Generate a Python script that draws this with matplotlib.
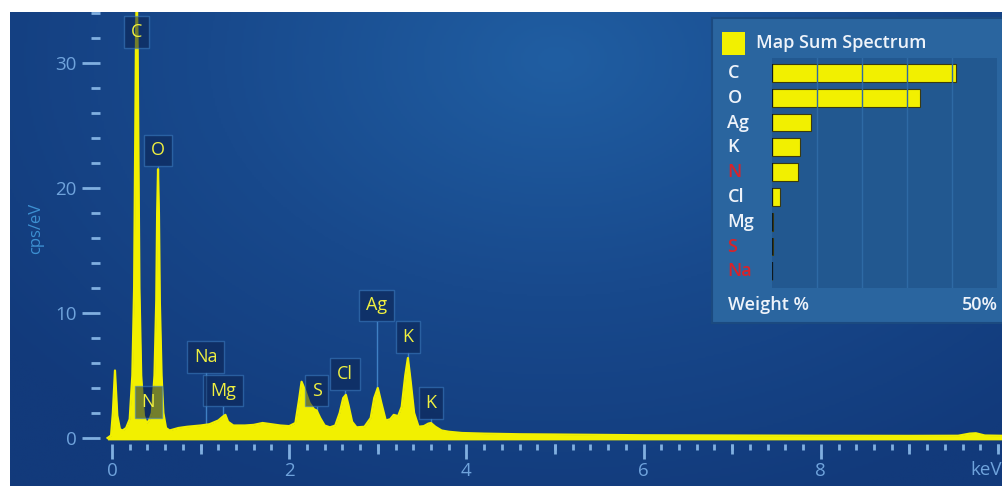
import matplotlib
matplotlib.use('Agg')
import matplotlib.pyplot as plt
import numpy as np
from matplotlib.colors import LinearSegmentedColormap
from matplotlib.patches import Rectangle
from matplotlib.ticker import MultipleLocator

plt.rcParams['font.family'] = ['Open Sans', 'DejaVu Sans']

# spectrum (keV, cps/eV)
energy = [-0.05, -0.01, 0.01, 0.034, 0.06, 0.09, 0.12, 0.16, 0.20, 0.23,
          0.25, 0.27, 0.28, 0.29, 0.31, 0.33, 0.36, 0.39, 0.42, 0.45,
          0.48, 0.50, 0.51, 0.52, 0.53, 0.54, 0.56, 0.58, 0.61, 0.65,
          0.75, 0.85, 1.0, 1.1, 1.2, 1.25, 1.28, 1.31, 1.37, 1.5,
          1.6, 1.7, 1.8, 1.9, 2.0, 2.07, 2.11, 2.14, 2.18, 2.23,
          2.28, 2.31, 2.35, 2.40, 2.46, 2.52, 2.57, 2.61, 2.64, 2.67,
          2.71, 2.76, 2.85, 2.92, 2.96, 3.00, 3.04, 3.09, 3.14, 3.18,
          3.23, 3.27, 3.31, 3.34, 3.37, 3.41, 3.46, 3.52, 3.57, 3.60,
          3.65, 3.72, 3.80, 3.95, 4.2, 4.6, 5.0, 5.5, 6.0, 7.0,
          8.0, 9.0, 9.55, 9.68, 9.75, 9.85, 10.1]
counts = [0, 0.2, 2.0, 5.4, 1.8, 0.7, 0.6, 0.8, 1.5, 5,
          12, 31, 36, 31, 12, 5, 1.8, 1.2, 1.4, 2.0,
          5, 11, 18, 21.5, 18, 11, 5, 2, 0.8, 0.6,
          0.8, 0.9, 1.0, 1.1, 1.4, 1.7, 1.85, 1.3, 1.0, 1.0,
          1.05, 1.2, 1.1, 1.0, 0.95, 1.2, 3.0, 4.5, 3.8, 2.8,
          2.3, 2.2, 1.6, 1.0, 0.85, 1.0, 2.0, 3.2, 3.45, 2.6,
          1.3, 0.85, 0.9, 1.6, 3.2, 4.0, 2.8, 1.4, 1.5, 1.85,
          1.75, 2.5, 5.0, 6.4, 4.6, 2.0, 0.9, 0.95, 1.15, 1.2,
          0.9, 0.6, 0.5, 0.4, 0.35, 0.3, 0.28, 0.25, 0.22, 0.2,
          0.18, 0.17, 0.18, 0.35, 0.38, 0.2, 0.17]

# peak labels: name, energy, label height
peak_names = ['C', 'O', 'N', 'Na', 'Mg', 'S', 'Cl', 'Ag', 'K', 'K']
peak_energy = [0.28, 0.52, 0.41, 1.06, 1.25, 2.31, 2.63, 2.99, 3.34, 3.60]
peak_label_y = [32.5, 23.0, 2.9, 6.5, 3.8, 3.8, 5.1, 10.6, 8.1, 2.8]

# weight % panel
elements = ['C', 'O', 'Ag', 'K', 'N', 'Cl', 'Mg', 'S', 'Na']
weights = [41, 33, 8.7, 6.2, 5.8, 1.8, 0.3, 0.2, 0.1]
red_elements = ['N', 'S', 'Na']

W, H = 1003, 486
fig = plt.figure(figsize=(W / 100, H / 100), dpi=100, facecolor='white')


def fbox(x0, y0, x1, y1):
    # pixel box (top-left origin) -> figure fraction rect
    return [x0 / W, 1 - y1 / H, (x1 - x0) / W, (y1 - y0) / H]


# background panel with soft glow
bg = fig.add_axes(fbox(10, 12, W, H))
bg.axis('off')
yy, xx = np.mgrid[0:1:240j, 0:1:480j]
r = np.sqrt(((xx - 0.55) / 0.7) ** 2 + ((yy - 0.1) / 1.0) ** 2)
cmap = LinearSegmentedColormap.from_list('bg', ['#205ea2', '#18498c', '#123a7b'])
bg.imshow(np.clip(r, 0, 1), cmap=cmap, aspect='auto', extent=[0, 1, 1, 0],
          vmin=0, vmax=1)
bg.set_xlim(0, 1)
bg.set_ylim(1, 0)

tick_col = '#80afe0'
lab_col = '#6fa3dc'
ax = fig.add_axes(fbox(100, 12, W, 444))
ax.set_facecolor('none')
ax.set_xlim(-0.135, 10.056)
ax.set_ylim(-0.48, 34.08)
for s in ax.spines.values():
    s.set_visible(False)

ax.fill_between(energy, -0.15, counts, color='#f2f000', lw=0, zorder=2)
ax.plot(energy, counts, color='#f2f000', lw=1.6, zorder=2)

ax.set_xticks([0, 2, 4, 6, 8])
ax.xaxis.set_minor_locator(MultipleLocator(0.2))
ax.set_yticks([0, 10, 20, 30])
ax.yaxis.set_minor_locator(MultipleLocator(2))
ax.tick_params(axis='x', which='major', length=11, width=2, color=tick_col,
               labelcolor=lab_col, labelsize=13.5, pad=2)
ax.tick_params(axis='x', which='minor', length=4, width=2, color=tick_col)
ax.tick_params(axis='y', which='major', length=13, width=2, color=tick_col,
               labelcolor=lab_col, labelsize=13.5, pad=4)
ax.tick_params(axis='y', which='minor', length=6.5, width=2, color=tick_col)
sec = ax.secondary_xaxis('bottom')
sec.set_xticks([1, 3, 5, 7, 9, 10])
sec.set_xticklabels([])
sec.tick_params(length=7.5, width=2, color=tick_col)
sec.spines['bottom'].set_visible(False)
fig.text(1002 / W, 1 - 470 / H, 'keV', color=lab_col, fontsize=13.5,
         ha='right', va='center')

ax.set_ylabel('cps/eV', color='#3d90d2', fontsize=12, labelpad=0)
ax.yaxis.set_label_coords(-0.062, 0.5)

box_style = dict(boxstyle='square,pad=0.38', facecolor='#0b2250', alpha=0.55,
                 edgecolor='#3f80c4', lw=1)
for name, e, ly in zip(peak_names, peak_energy, peak_label_y):
    top = np.interp(e, energy, counts)
    if ly - 1.3 > top:
        ax.plot([e, e], [ly - 1.3, top], color='#3f80c4', lw=1, zorder=1)
    ax.text(e, ly, name, ha='center', va='center', color='#f0f040',
            fontsize=13, bbox=box_style, zorder=3)

# weight % inset
panel = fig.add_axes(fbox(712, 18, W, 323))
panel.set_facecolor('#2a659f')
panel.set_xticks([])
panel.set_yticks([])
for s in panel.spines.values():
    s.set_color('#1b4a80')
    s.set_linewidth(1.5)

txt_col = '#eef3fa'
fig.patches.append(Rectangle((722 / W, 1 - 55 / H), 23 / W, 23 / H,
                             transform=fig.transFigure, facecolor='#f2f000',
                             edgecolor='none'))
fig.text(756 / W, 1 - 43 / H, 'Map Sum Spectrum', color=txt_col, fontsize=13,
         fontweight='semibold', va='center', ha='left')
fig.text(728 / W, 1 - 305 / H, 'Weight %', color=txt_col, fontsize=13,
         fontweight='semibold', va='center', ha='left')
fig.text(998 / W, 1 - 305 / H, '50%', color=txt_col, fontsize=13,
         fontweight='semibold', va='center', ha='right')

bax = fig.add_axes(fbox(772, 58, 997, 288))
bax.set_facecolor('#225890')
bax.set_xlim(0, 50)
bax.set_ylim(8.67, -0.6)
for s in bax.spines.values():
    s.set_visible(False)
bax.set_xticks([])
bax.set_yticks([])
for g in [10, 20, 30, 40]:
    bax.axvline(g, color='#2e6aa5', lw=1)
rows = np.arange(len(elements))
bax.barh(rows, weights, height=0.72, color='#f2f000', edgecolor='#3a3a10', lw=0.8)
bax.vlines(np.zeros(len(rows)), rows - 0.36, rows + 0.36, color='#0d1820', lw=1.6)
for i, el in enumerate(elements):
    col = '#d8232a' if el in red_elements else txt_col
    bax.text(-9.9, i, el, color=col, fontsize=13, fontweight='semibold',
             va='center', ha='left', clip_on=False)

fig.savefig('out.png', dpi=100, facecolor='white')
